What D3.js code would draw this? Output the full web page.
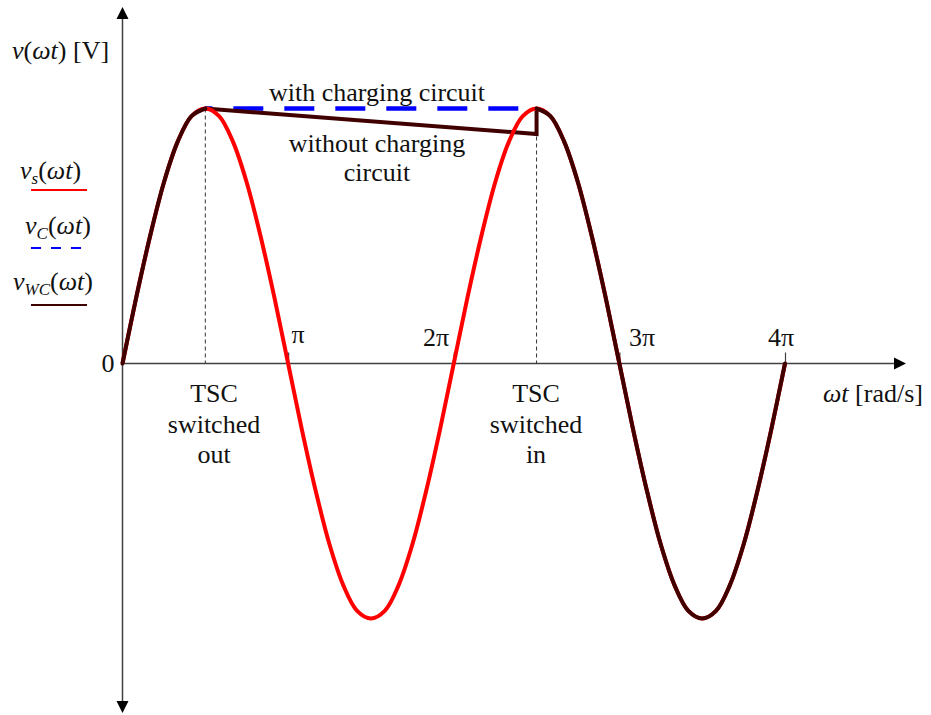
<!DOCTYPE html>
<html>
<head>
<meta charset="utf-8">
<script src="https://cdn.jsdelivr.net/npm/d3@7"></script>
<style>
  html, body { margin: 0; padding: 0; background: #fff; }
  svg { display: block; }
  text { font-family: "Liberation Serif", "Times New Roman", serif; fill: #111; }
</style>
</head>
<body>
<svg id="chart" width="931" height="715"></svg>
<script>
// Phase grid in units of π (step π/12, 0 … 4π)
const phase = d3.range(0, 49).map(k => k / 12);

// Supply voltage v_s(ωt), per-unit of peak
const vs = [
   0.00,  0.26,  0.50,  0.71,  0.87,  0.97,  1.00,  0.97,  0.87,  0.71,  0.50,  0.26,
   0.00, -0.26, -0.50, -0.71, -0.87, -0.97, -1.00, -0.97, -0.87, -0.71, -0.50, -0.26,
   0.00,  0.26,  0.50,  0.71,  0.87,  0.97,  1.00,  0.97,  0.87,  0.71,  0.50,  0.26,
   0.00, -0.26, -0.50, -0.71, -0.87, -0.97, -1.00, -0.97, -0.87, -0.71, -0.50, -0.26,
   0.00
];

// Capacitor voltage without charging circuit: follows supply while connected,
// decays while disconnected (null = disconnected span on the phase grid)
const vWC = [
   0.00,  0.26,  0.50,  0.71,  0.87,  0.97,  1.00,  null,  null,  null,  null,  null,
   null,  null,  null,  null,  null,  null,  null,  null,  null,  null,  null,  null,
   null,  null,  null,  null,  null,  null,  1.00,  0.97,  0.87,  0.71,  0.50,  0.26,
   0.00, -0.26, -0.50, -0.71, -0.87, -0.97, -1.00, -0.97, -0.87, -0.71, -0.50, -0.26,
   0.00
];
// Decay while switched out, then jump back to peak at switch-in
const wcHoldPhase = [0.5, 2.5, 2.5];
const wcHoldValue = [1.00, 0.90, 1.00];

// Capacitor voltage with charging circuit: held at peak
const vcPhase = [0.5, 2.5];
const vcValue = [1.00, 1.00];

// Switching instants (units of π)
const switchPhase = [0.5, 2.5];
const switchLabels = [["TSC", "switched", "out"], ["TSC", "switched", "in"]];

// Axis ticks
const tickValues = [1, 2, 3, 4];
const tickLabels = ["π", "2π", "3π", "4π"];

const colors = { vs: "#ff0000", vc: "#0000ff", vwc: "#400000", axis: "#404040" };

const svg = d3.select("#chart");
const x = d3.scaleLinear().domain([0, 4]).range([122.5, 785]);
const y = d3.scaleLinear().domain([-1, 1]).range([618.5, 108.5]);

// ---- axes ----
const xAxis = svg.append("g")
  .attr("transform", `translate(0,${y(0)})`)
  .call(d3.axisBottom(x).tickValues(tickValues).tickSizeInner(-11).tickSizeOuter(0).tickFormat(""));
xAxis.select(".domain").remove();
xAxis.selectAll(".tick line").attr("stroke", colors.axis).attr("stroke-width", 1.2);

const axisG = svg.append("g").attr("stroke", colors.axis).attr("stroke-width", 1.5);
axisG.append("line").attr("x1", x(0)).attr("x2", 896).attr("y1", y(0)).attr("y2", y(0));
axisG.append("line").attr("x1", x(0)).attr("x2", x(0)).attr("y1", 18).attr("y2", 703);
svg.append("path").attr("fill", "#000")
  .attr("d", `M906,${y(0)} L894,${y(0) - 6} L894,${y(0) + 6} Z`);
svg.append("path").attr("fill", "#000")
  .attr("d", `M${x(0)},7 L${x(0) - 6},19 L${x(0) + 6},19 Z`);
svg.append("path").attr("fill", "#000")
  .attr("d", `M${x(0)},713 L${x(0) - 6},701 L${x(0) + 6},701 Z`);

// ---- switching instants (dashed guides) ----
svg.append("g").selectAll("line").data(switchPhase).join("line")
  .attr("x1", d => x(d)).attr("x2", d => x(d))
  .attr("y1", y(1)).attr("y2", y(0))
  .attr("stroke", "#333").attr("stroke-width", 1)
  .attr("stroke-dasharray", "4,3");

// ---- curves ----
const smooth = d3.line()
  .defined(d => d[1] !== null)
  .x(d => x(d[0])).y(d => y(d[1]))
  .curve(d3.curveCatmullRom);
const straight = d3.line().x(d => x(d[0])).y(d => y(d[1]));

// v_C with charging circuit (dashed blue)
svg.append("path")
  .datum(vcPhase.map((p, i) => [p, vcValue[i]]))
  .attr("d", straight)
  .attr("fill", "none").attr("stroke", colors.vc).attr("stroke-width", 4.5)
  .attr("stroke-dasharray", "30,21").attr("stroke-dashoffset", 23);

// v_WC decay segment
svg.append("path")
  .datum(wcHoldPhase.map((p, i) => [p, wcHoldValue[i]]))
  .attr("d", straight)
  .attr("fill", "none").attr("stroke", colors.vwc).attr("stroke-width", 4)
  .attr("stroke-linejoin", "miter");

// v_s supply
svg.append("path")
  .datum(phase.map((p, i) => [p, vs[i]]))
  .attr("d", smooth)
  .attr("fill", "none").attr("stroke", colors.vs).attr("stroke-width", 4);

// v_WC following the supply
svg.append("path")
  .datum(phase.map((p, i) => [p, vWC[i]]))
  .attr("d", smooth)
  .attr("fill", "none").attr("stroke", colors.vwc).attr("stroke-width", 4)
  .attr("stroke-linecap", "round");

// ---- tick labels ----
const tickLabelPos = [[298, 343], [436, 346], [642, 346], [781, 346]];
svg.append("g").selectAll("text").data(tickLabels).join("text")
  .attr("x", (d, i) => tickLabelPos[i][0]).attr("y", (d, i) => tickLabelPos[i][1])
  .attr("text-anchor", "middle").attr("font-size", 26).text(d => d);
svg.append("text").attr("x", 108).attr("y", 372).attr("text-anchor", "middle")
  .attr("font-size", 26).text("0");

// ---- axis titles ----
const yt = svg.append("text").attr("x", 12).attr("y", 59).attr("font-size", 26);
yt.append("tspan").attr("font-style", "italic").text("v");
yt.append("tspan").text("(");
yt.append("tspan").attr("font-style", "italic").text("ωt");
yt.append("tspan").text(") [V]");

const xt = svg.append("text").attr("x", 823).attr("y", 402).attr("font-size", 26);
xt.append("tspan").attr("font-style", "italic").text("ωt");
xt.append("tspan").text(" [rad/s]");

// ---- annotations ----
svg.append("text").attr("x", 377).attr("y", 101).attr("text-anchor", "middle")
  .attr("font-size", 26).text("with charging circuit");
svg.append("text").attr("x", 377).attr("y", 152).attr("text-anchor", "middle")
  .attr("font-size", 26).text("without charging");
svg.append("text").attr("x", 377).attr("y", 181).attr("text-anchor", "middle")
  .attr("font-size", 26).text("circuit");

const switchCenters = [214, 536];
switchLabels.forEach((lines, i) => {
  lines.forEach((t, j) => {
    svg.append("text").attr("x", switchCenters[i]).attr("y", 402 + j * 30.5)
      .attr("text-anchor", "middle").attr("font-size", 26).text(t);
  });
});

// ---- legend ----
const legend = [
  { sub: "s", color: colors.vs, dash: null, tx: 20, ty: 179, ly: 190 },
  { sub: "C", color: colors.vc, dash: "10,10", tx: 25, ty: 234, ly: 248 },
  { sub: "WC", color: colors.vwc, dash: null, tx: 13, ty: 290, ly: 305 }
];
legend.forEach(l => {
  const t = svg.append("text").attr("x", l.tx).attr("y", l.ty).attr("font-size", 26);
  t.append("tspan").attr("font-style", "italic").text("v");
  t.append("tspan").attr("font-style", "italic").attr("font-size", 17).attr("dy", 5).text(l.sub);
  t.append("tspan").attr("dy", -5).text("(");
  t.append("tspan").attr("font-style", "italic").text("ωt");
  t.append("tspan").text(")");
  svg.append("line").attr("x1", 31).attr("x2", 87).attr("y1", l.ly).attr("y2", l.ly)
    .attr("stroke", l.color).attr("stroke-width", 2)
    .attr("stroke-dasharray", l.dash);
});
</script>
</body>
</html>
